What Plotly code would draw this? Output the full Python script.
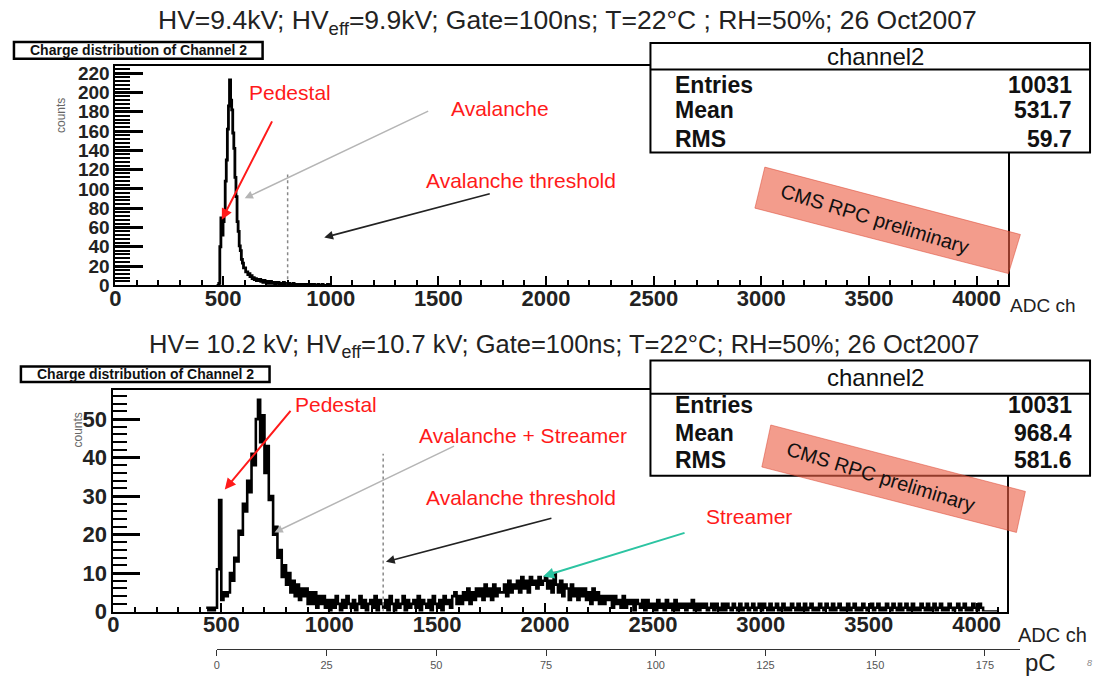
import plotly.graph_objects as go

W, H = 1097, 691
FONT = "Liberation Sans, Arial, sans-serif"

# ------------------------- data -------------------------
# top histogram (HV = 9.4 kV), bins of 5 ADC channels starting at 470
top_bin_start = 470
top_bin_width = 5
top_counts = [
    0, 0, 2, 40, 70, 52, 66, 76, 108, 130,
    162, 186, 213, 192, 182, 158, 142, 112, 92, 66,
    56, 41, 36, 27, 23, 18, 18, 14, 14, 11,
    12, 9, 10, 7, 8, 6, 7, 5, 6, 5,
    6, 4, 5, 3, 5, 3,
    4, 2, 4, 2, 4, 3, 2, 3, 1, 3,
    2, 3, 1, 2, 2, 1, 3, 1, 2, 1,
    1, 2, 1, 1, 0, 2, 1, 1, 0, 1,
    1, 0, 1, 1, 0, 1, 0, 0, 1, 0,
    0, 1, 0, 0, 1, 0, 0, 0, 1, 0,
    0, 0, 1, 0, 0, 0, 0, 1, 0, 0,
]

# bottom histogram (HV = 10.2 kV), bins of 10 ADC channels starting at 430
bot_bin_start = 430
bot_bin_width = 10
bot_counts = [
    1, 0, 1, 0, 1, 11, 29, 3, 5, 4,
    5, 10, 8, 14, 13, 21, 20, 28, 26, 34,
    31, 41, 38, 50, 55, 44, 51, 36, 43, 29,
    30, 20, 22, 14, 16, 9, 12, 7, 10, 5,
    8, 4, 7, 3, 6, 4, 6, 2, 5, 2,
    5, 1, 4, 2, 4, 1, 3,
    # 1000 - 1490
    0, 3, 1, 4, 2, 0, 3, 1, 4, 2,
    1, 3, 0, 2, 4, 1, 3, 0, 2, 3,
    1, 4, 0, 3, 2, 1, 3, 0, 4, 2,
    0, 3, 1, 2, 4, 0, 3, 1, 2, 3,
    1, 4, 0, 3, 2, 1, 3, 0, 4, 2,
    # 1500 - 2290
    1, 3, 0, 4, 2, 3, 1, 4, 5, 2,
    4, 2, 5, 3, 6, 2, 5, 3, 6, 4,
    6, 3, 7, 4, 6, 3, 7, 4, 6, 5,
    5, 7, 4, 8, 5, 7, 6, 8, 5, 9,
    6, 8, 5, 9, 7, 8, 6, 9, 7, 8,
    9, 6, 8, 5, 10, 7, 5, 8, 4, 7,
    6, 3, 7, 4, 6, 3, 6, 4, 6, 3,
    5, 2, 6, 3, 5, 2, 4, 2, 4, 3,
    # 2300 - 2990
    4, 1, 4, 2, 3, 1, 4, 1, 3, 2,
    3, 0, 3, 2, 1, 3, 0, 3, 1, 2,
    2, 0, 3, 1, 2, 0, 3, 1, 2, 0,
    3, 0, 2, 1, 2, 0, 2, 1, 3, 0,
    2, 0, 2, 1, 2, 0, 1, 2, 0, 2,
    1, 0, 2, 0, 2, 1, 0, 2, 1, 0,
    2, 0, 1, 2, 0, 1, 2, 0, 1, 2,
    # 3000 - 4090
    0, 2, 1, 0, 2, 0, 1, 2, 0, 1,
    2, 0, 1, 0, 2, 1, 0, 2, 0, 1,
    2, 0, 1, 2, 0, 1, 0, 2, 1, 0,
    2, 1, 0, 2, 0, 1, 2, 0, 1, 0,
    2, 0, 1, 2, 0, 1, 0, 2, 1, 0,
    1, 2, 0, 1, 2, 0, 1, 0, 2, 1,
    0, 2, 1, 0, 2, 0, 1, 2, 0, 1,
    2, 0, 1, 0, 2, 1, 0, 2, 0, 1,
    2, 0, 1, 2, 0, 1, 0, 2, 1, 0,
    1, 2, 0, 1, 2, 0, 1, 0, 2, 1,
    0, 2, 1, 0, 0, 0, 0, 0, 0, 0,
]

adc_ticks = [0, 500, 1000, 1500, 2000, 2500, 3000, 3500, 4000]
top_yticks = [0, 20, 40, 60, 80, 100, 120, 140, 160, 180, 200, 220]
bot_yticks = [0, 10, 20, 30, 40, 50]
pc_ticks = [0, 25, 50, 75, 100, 125, 150, 175]

top_threshold_adc, top_threshold_height = 800, 115
bot_threshold_adc, bot_threshold_height = 1250, 41

stat_names = ["Entries", "Mean", "RMS"]
top_stat_values = ["10031", "531.7", "59.7"]
bot_stat_values = ["10031", "968.4", "581.6"]

top_title = "HV=9.4kV; HV<sub>eff</sub>=9.9kV; Gate=100ns; T=22°C ; RH=50%; 26 Oct2007"
bot_title = "HV= 10.2 kV; HV<sub>eff</sub>=10.7 kV; Gate=100ns; T=22°C; RH=50%; 26 Oct2007"
hist_title = "Charge distribution of Channel 2"


# ------------------------- helpers -------------------------
def px(x):
    return x / W


def py(y):
    return 1 - y / H


def step_xy(start, width, counts):
    xs = [start + width * i for i in range(len(counts) + 1)]
    ys = list(counts) + [counts[-1]]
    return xs, ys


fig = go.Figure()

tx, ty = step_xy(top_bin_start, top_bin_width, top_counts)
fig.add_trace(go.Scatter(x=tx, y=ty, mode="lines", line=dict(color="black", width=2.8, shape="hv"),
                         xaxis="x", yaxis="y", showlegend=False, hoverinfo="skip"))
bx, by = step_xy(bot_bin_start, bot_bin_width, bot_counts)
fig.add_trace(go.Scatter(x=bx, y=by, mode="lines", line=dict(color="black", width=2.6, shape="hv"),
                         xaxis="x2", yaxis="y2", showlegend=False, hoverinfo="skip"))

# threshold lines
fig.add_trace(go.Scatter(x=[top_threshold_adc, top_threshold_adc], y=[0, top_threshold_height],
                         mode="lines", line=dict(color="#888", width=1.5, dash="dot"),
                         xaxis="x", yaxis="y", showlegend=False, hoverinfo="skip"))
fig.add_trace(go.Scatter(x=[bot_threshold_adc, bot_threshold_adc], y=[0, bot_threshold_height],
                         mode="lines", line=dict(color="#888", width=1.5, dash="dot"),
                         xaxis="x2", yaxis="y2", showlegend=False, hoverinfo="skip"))

# invisible trace to carry the pC axis
fig.add_trace(go.Scatter(x=pc_ticks, y=[0] * len(pc_ticks), mode="markers", marker=dict(opacity=0),
                         xaxis="x3", yaxis="y3", showlegend=False, hoverinfo="skip"))

tickfont = dict(family=FONT, size=22, color="#222", weight="bold")
ytickfont_top = dict(family=FONT, size=19, color="#222", weight="bold")

xcommon = dict(showline=True, mirror=True, linecolor="black", linewidth=2, ticks="inside",
               ticklen=9, tickwidth=2, tickcolor="black", tickvals=adc_ticks, tickfont=tickfont,
               showgrid=False, zeroline=False, ticklabelstandoff=-8,
               minor=dict(ticks="inside", ticklen=5, dtick=100, tickwidth=1.5, tickcolor="black"))

fig.update_layout(
    width=W, height=H, margin=dict(l=0, r=0, t=0, b=0),
    paper_bgcolor="white", plot_bgcolor="white",
    xaxis=dict(domain=[px(110), px(1008)], range=[0, 4148], anchor="y", **xcommon),
    yaxis=dict(domain=[py(289), py(65)], range=[0, 227], anchor="x", showline=True, mirror=True,
               linecolor="black", linewidth=2, ticks="inside", ticklen=28, tickwidth=2.5,
               tickcolor="black", tickvals=top_yticks, tickfont=ytickfont_top, showgrid=False,
               zeroline=False,
               minor=dict(ticks="inside", ticklen=15, dtick=4, tickwidth=2, tickcolor="black")),
    xaxis2=dict(domain=[px(108), px(1007)], range=[0, 4143], anchor="y2", **xcommon),
    yaxis2=dict(domain=[py(623), py(396)], range=[0, 57.6], anchor="x2", showline=True, mirror=True,
                linecolor="black", linewidth=2, ticks="inside", ticklen=27, tickwidth=2.5,
                tickcolor="black", tickvals=bot_yticks, tickfont=tickfont, showgrid=False,
                zeroline=False,
                minor=dict(ticks="inside", ticklen=14, dtick=2, tickwidth=2, tickcolor="black")),
    xaxis3=dict(domain=[px(212), px(1020)], range=[0, 183.1], anchor="y3", showline=True,
                linecolor="#333", linewidth=1, ticks="outside", ticklen=6, tickwidth=1,
                tickcolor="#333", tickvals=pc_ticks,
                tickfont=dict(family=FONT, size=11, color="#555"), showgrid=False, zeroline=False),
    yaxis3=dict(domain=[py(661), py(659)], range=[0, 1], visible=False),
    showlegend=False,
)

shapes = []
annotations = []


def rect(x0, y0, x1, y1, width=2, fill="white"):
    shapes.append(dict(type="rect", xref="paper", yref="paper", x0=px(x0), x1=px(x1),
                       y0=py(y1), y1=py(y0), line=dict(color="black", width=width),
                       fillcolor=fill, layer="above"))


def hline(x0, x1, y, width=2):
    shapes.append(dict(type="line", xref="paper", yref="paper", x0=px(x0), x1=px(x1),
                       y0=py(y), y1=py(y), line=dict(color="black", width=width), layer="above"))


def text(x, y, s, size, color="#222", xanchor="center", weight="normal", angle=0, family=FONT):
    annotations.append(dict(x=px(x), y=py(y), xref="paper", yref="paper", text=s, showarrow=False,
                            xanchor=xanchor, yanchor="middle", textangle=angle,
                            font=dict(family=family, size=size, color=color, weight=weight)))


def arrow(tail, head, color, width=1.8):
    annotations.append(dict(x=px(head[0]), y=py(head[1]), xref="paper", yref="paper", text="",
                            showarrow=True, ax=tail[0] - head[0], ay=tail[1] - head[1],
                            axref="pixel", ayref="pixel", arrowhead=2, arrowsize=1.1,
                            arrowwidth=width, arrowcolor=color))


def stamp(corners, center, angle):
    path = "M " + " L ".join(f"{px(x)},{py(y)}" for x, y in corners) + " Z"
    shapes.append(dict(type="path", xref="paper", yref="paper", path=path,
                       fillcolor="rgba(236,95,70,0.62)", line=dict(color="rgba(220,70,50,0.5)", width=1),
                       layer="above"))
    text(center[0], center[1], "CMS RPC preliminary", 20, color="#111", angle=angle)


# stats boxes
for (y0, y1, yline, yhead, rows, vals) in [
    (41, 153, 68, 55, [84, 110, 139], top_stat_values),
    (366, 484, 400, 383, [412, 440, 468], bot_stat_values),
]:
    rect(648, y0, 1090, y1)
    hline(648, 1090, yline)
    text(874, yhead, "channel2", 24, color="#111")
    for yy, name, val in zip(rows, stat_names, vals):
        text(671, yy, name, 23, color="#111", xanchor="left", weight="bold")
        text(1074, yy, val, 23, color="#111", xanchor="right", weight="bold")

# histogram title boxes
rect(8, 40, 258, 57, width=2.5)
text(133, 48.5, hist_title, 14, color="#111", weight="bold")
rect(15, 372, 265, 388, width=2.5)
text(140, 380, hist_title, 14, color="#111", weight="bold")

# stamps
stamp([(763, 168), (1020, 237), (1008, 277), (753, 210)], (874, 221), 17)
stamp([(769, 432), (1025, 500), (1016, 542), (760, 475)], (880, 485), 17)

# titles
text(565, 19, top_title, 26.5, color="#222")
text(561, 351, bot_title, 25.5, color="#222")

# axis titles
text(56, 115, "counts", 12, color="#666", angle=-90)
text(72, 437, "counts", 12, color="#666", angle=-90)
text(1042, 310, "ADC ch", 19, color="#222")
text(1052, 647, "ADC ch", 20, color="#222")
text(1040, 675, "pC", 24, color="#222")
text(1089, 676, "<i>8</i>", 9, color="#888")

# red labels
RED = "#ff1a1a"
text(286, 92, "Pedestal", 21, color=RED)
text(497, 108, "Avalanche", 21, color=RED)
text(518, 182, "Avalanche threshold", 21, color=RED)
text(332, 411, "Pedestal", 21, color=RED)
text(520, 443, "Avalanche + Streamer", 21, color=RED)
text(518, 506, "Avalanche threshold", 21, color=RED)
text(747, 526, "Streamer", 21, color=RED)

# arrows
arrow((268, 122), (217, 222), RED, 2)
arrow((425, 112), (240, 200), "#b5b5b5", 1.5)
arrow((487, 196), (320, 240), "#222", 1.6)
arrow((287, 418), (220, 498), RED, 2)
arrow((451, 455), (270, 542), "#b5b5b5", 1.5)
arrow((549, 528), (382, 572), "#222", 1.6)
arrow((683, 543), (540, 587), "#2cc4a2", 2)

fig.update_layout(shapes=shapes, annotations=annotations)
fig.write_html("out.html")
